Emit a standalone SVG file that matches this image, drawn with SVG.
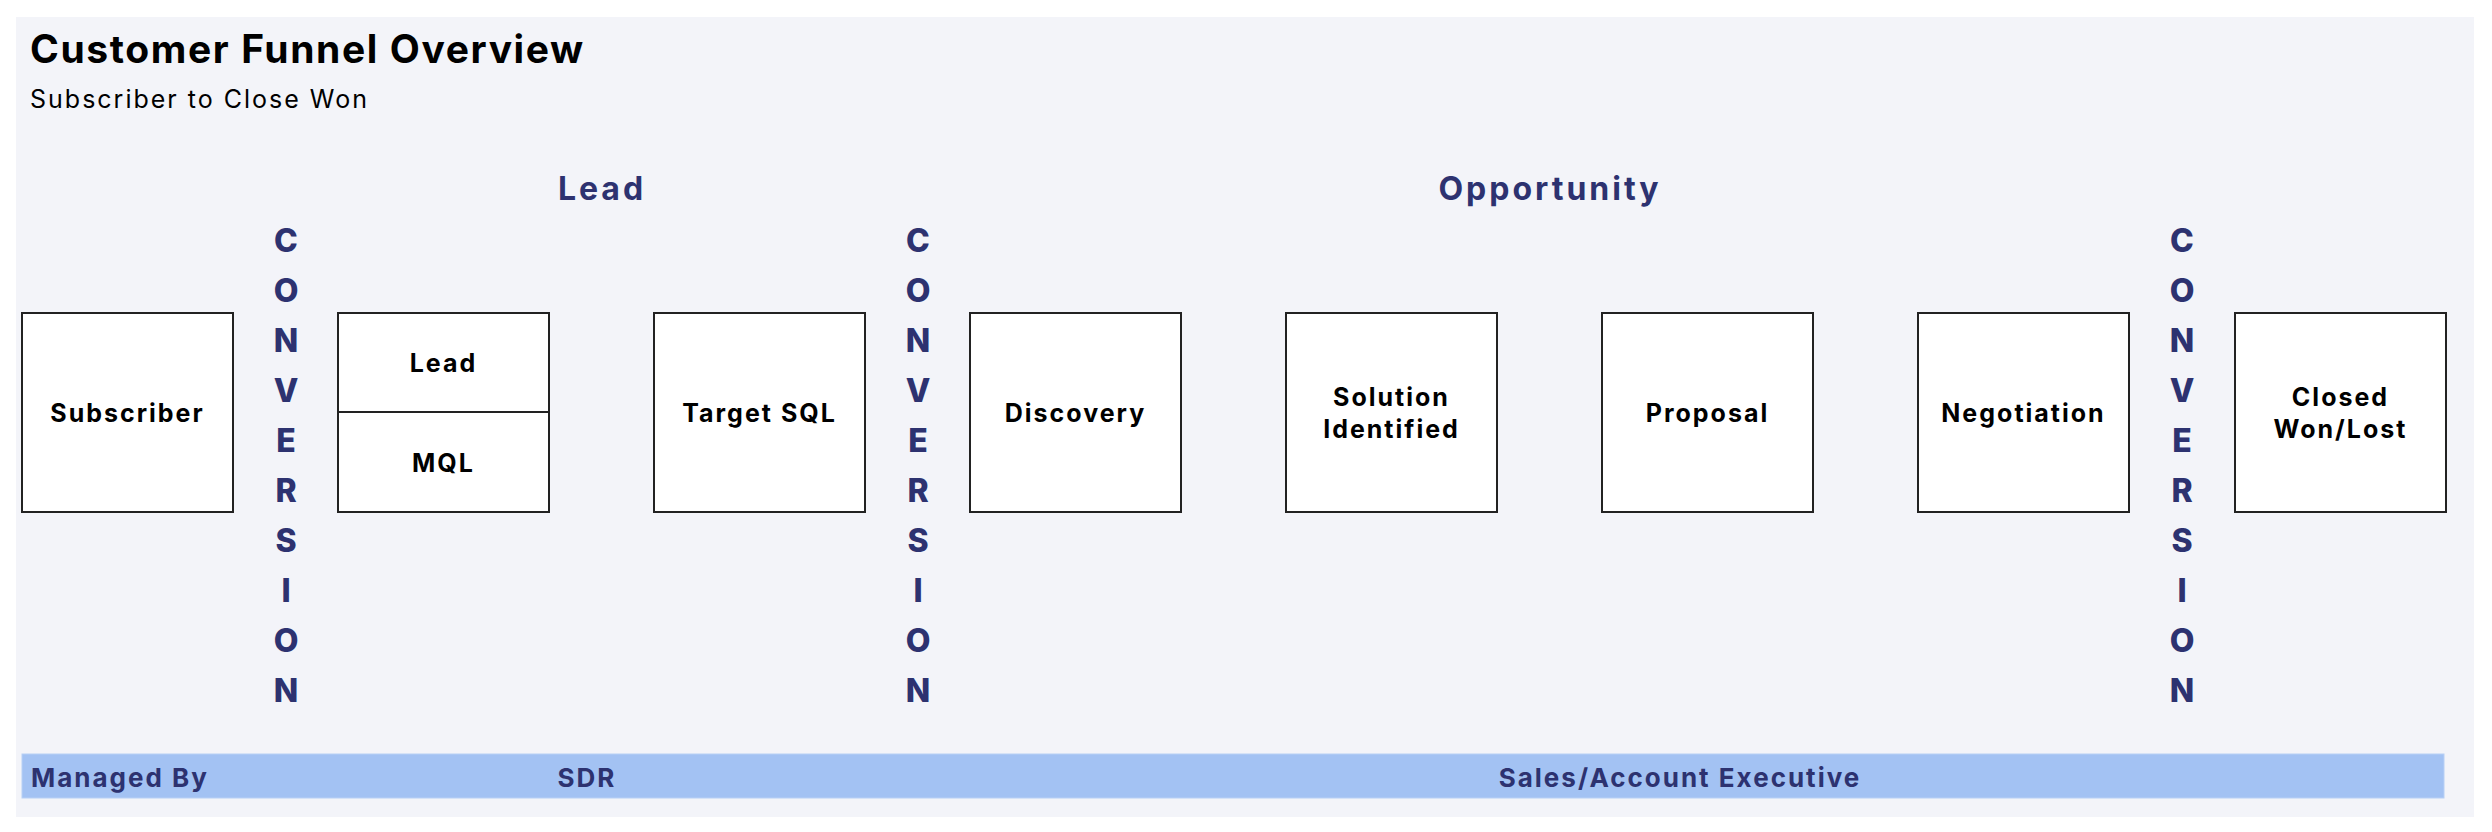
<svg xmlns="http://www.w3.org/2000/svg" width="2492" height="832" viewBox="0 0 2492 832">
<style>
  .title{font-family:Inter,"Liberation Sans",sans-serif;font-weight:700;font-size:39px;fill:#000;letter-spacing:1.6px}
  .sub{font-family:Inter,"Liberation Sans",sans-serif;font-weight:400;font-size:25px;fill:#000;letter-spacing:2px}
  .sec{font-family:Inter,"Liberation Sans",sans-serif;font-weight:700;font-size:32px;fill:#2d3270;text-anchor:middle;letter-spacing:3px}
  .conv{font-family:Inter,"Liberation Sans",sans-serif;font-weight:800;font-size:32px;fill:#2d3270;text-anchor:middle}
  .box{fill:#fff;stroke:#222;stroke-width:2}
  .lbl{font-family:Inter,"Liberation Sans",sans-serif;font-weight:700;font-size:25px;fill:#000;text-anchor:middle;letter-spacing:2px}
  .band{font-family:Inter,"Liberation Sans",sans-serif;font-weight:700;font-size:26px;fill:#2d3270;letter-spacing:2px}
</style>
<rect width="2492" height="832" fill="#ffffff"/>
<rect x="16" y="17" width="2458" height="800" fill="#f3f4f9"/>
<text class="title" x="30" y="63">Customer Funnel Overview</text>
<text class="sub" x="30" y="108">Subscriber to Close Won</text>
<text class="sec" x="602" y="200">Lead</text>
<text class="sec" x="1550" y="200">Opportunity</text>

<g id="conversion-1">
  <text class="conv" x="286" y="252">C</text><text class="conv" x="286" y="302">O</text><text class="conv" x="286" y="352">N</text><text class="conv" x="286" y="402">V</text><text class="conv" x="286" y="452">E</text><text class="conv" x="286" y="502">R</text><text class="conv" x="286" y="552">S</text><text class="conv" x="286" y="602">I</text><text class="conv" x="286" y="652">O</text><text class="conv" x="286" y="702">N</text>
</g>
<g id="conversion-2">
  <text class="conv" x="918" y="252">C</text><text class="conv" x="918" y="302">O</text><text class="conv" x="918" y="352">N</text><text class="conv" x="918" y="402">V</text><text class="conv" x="918" y="452">E</text><text class="conv" x="918" y="502">R</text><text class="conv" x="918" y="552">S</text><text class="conv" x="918" y="602">I</text><text class="conv" x="918" y="652">O</text><text class="conv" x="918" y="702">N</text>
</g>
<g id="conversion-3">
  <text class="conv" x="2182" y="252">C</text><text class="conv" x="2182" y="302">O</text><text class="conv" x="2182" y="352">N</text><text class="conv" x="2182" y="402">V</text><text class="conv" x="2182" y="452">E</text><text class="conv" x="2182" y="502">R</text><text class="conv" x="2182" y="552">S</text><text class="conv" x="2182" y="602">I</text><text class="conv" x="2182" y="652">O</text><text class="conv" x="2182" y="702">N</text>
</g>

<g id="subscriber"><rect class="box" x="22" y="313" width="211" height="199"/><text class="lbl" x="127.5" y="422">Subscriber</text></g>
<g id="lead-mql"><rect class="box" x="338" y="313" width="211" height="199"/><line x1="338" y1="412" x2="549" y2="412" stroke="#222" stroke-width="2"/><text class="lbl" x="443.5" y="372">Lead</text><text class="lbl" x="443.5" y="472">MQL</text></g>
<g id="target-sql"><rect class="box" x="654" y="313" width="211" height="199"/><text class="lbl" x="759.5" y="422">Target SQL</text></g>
<g id="discovery"><rect class="box" x="970" y="313" width="211" height="199"/><text class="lbl" x="1075.5" y="422">Discovery</text></g>
<g id="solution-identified"><rect class="box" x="1286" y="313" width="211" height="199"/><text class="lbl" x="1391.5" y="406">Solution</text><text class="lbl" x="1391.5" y="438">Identified</text></g>
<g id="proposal"><rect class="box" x="1602" y="313" width="211" height="199"/><text class="lbl" x="1707.5" y="422">Proposal</text></g>
<g id="negotiation"><rect class="box" x="1918" y="313" width="211" height="199"/><text class="lbl" x="2023.5" y="422">Negotiation</text></g>
<g id="closed"><rect class="box" x="2235" y="313" width="211" height="199"/><text class="lbl" x="2340.5" y="406">Closed</text><text class="lbl" x="2340.5" y="438">Won/Lost</text></g>

<g id="connectors"></g>

<g id="managed-by">
  <rect x="22" y="754" width="2422" height="44" fill="#a3c2f3" stroke="#b8d0f5" stroke-width="1"/>
  <text class="band" x="31" y="787">Managed By</text>
  <text class="band" x="587" y="787" text-anchor="middle">SDR</text>
  <text class="band" x="1680" y="787" text-anchor="middle">Sales/Account Executive</text>
</g>
</svg>
